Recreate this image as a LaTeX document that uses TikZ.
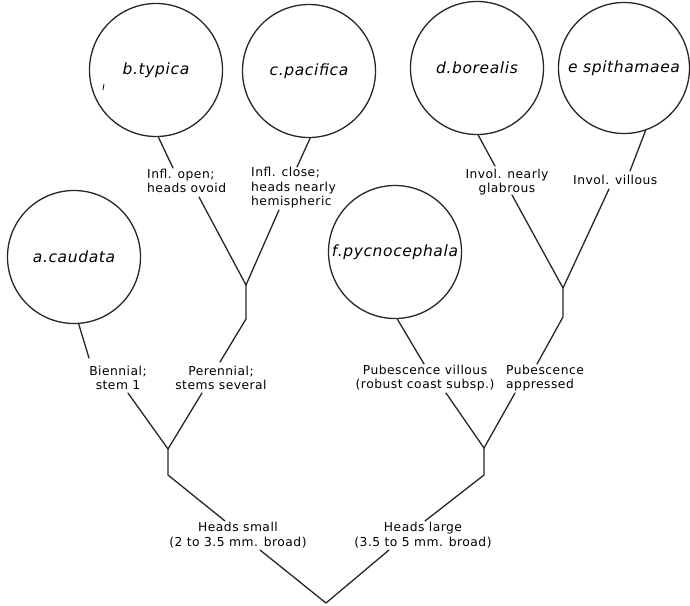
\documentclass[tikz,border=0pt]{standalone}
\usepackage{fontspec}
\setmainfont{DejaVu Sans}[LetterSpace=4]
\begin{document}
\begin{tikzpicture}[x=1pt,y=-1pt,
  taxon/.style={circle, draw=black!85, line width=1.3pt, minimum size=133pt, inner sep=0pt,
    font=\fontsize{15.5}{18}\selectfont\itshape},
  key/.style={inner sep=0pt, align=center, font=\fontsize{12.3}{14.5}\selectfont},
  keyl/.style={key, align=left, anchor=west},
  branch/.style={draw=black!85, line width=1.3pt, line join=round, line cap=round}]
\useasboundingbox (0,0) rectangle (690,605);

% taxa
\node[taxon] (btyp) at (156,70)  {b.typica};
\node[taxon] (cpac) at (309,71)  {c.pacifica};
\node[taxon] (dbor) at (477,68)  {d.borealis};
\node[taxon, minimum size=131pt] (espi) at (624,68) {e spithamaea};
\node[taxon] (acau) at (74,257)  {a.caudata};
\node[taxon] (fpyc) at (395,252) {f.pycnocephala};
\coordinate (tickA) at (104,84);
\coordinate (tickB) at (103,90);
\draw[line width=0.8pt] (tickA) -- (tickB);

% characters
\node[keyl] (lopen)  at (147,181) {Infl. open;\\heads ovoid};
\node[keyl] (lclose) at (251,188) {Infl. close;\\heads nearly\\hemispheric};
\node[key]  (lglab)  at (507,182) {Invol. nearly\\glabrous};
\node[keyl] (lvill)  at (573,180) {Invol. villous};
\node[key]  (lbien)  at (118,378) {Biennial;\\stem 1};
\node[key]  (lpere)  at (221,378) {Perennial;\\stems several};
\node[key]  (lpvil)  at (425,378) {Pubescence villous\\(robust coast subsp.)};
\node[keyl] (lpapp)  at (506,378) {Pubescence\\appressed};
\node[key]  (lsmall) at (238,535) {Heads small\\(2 to 3.5 mm. broad)};
\node[key]  (llarge) at (423,535) {Heads large\\(3.5 to 5 mm. broad)};

% forks
\coordinate (j1) at (246,285);  \coordinate (j1b) at (246,319);
\coordinate (j2) at (168,449);  \coordinate (j2b) at (168,475);
\coordinate (j3) at (484,448);  \coordinate (j3b) at (484,475);
\coordinate (j4) at (563,288);  \coordinate (j4b) at (563,317);
\coordinate (root) at (326,603);

% branch ends at the character labels
\coordinate (eopenT)  at (173,168); \coordinate (eopenB)  at (199,197);
\coordinate (ecloseT) at (297,167); \coordinate (ecloseB) at (279,210);
\coordinate (eglabT)  at (495,166); \coordinate (eglabB)  at (512,195);
\coordinate (evillT)  at (630,171); \coordinate (evillB)  at (609,189);
\coordinate (ebienT)  at (89,358);  \coordinate (ebienB)  at (128,393);
\coordinate (epereT)  at (220,362); \coordinate (epereB)  at (202,393);
\coordinate (epvilT)  at (424,364); \coordinate (epvilB)  at (446,393);
\coordinate (epappT)  at (537,364); \coordinate (epappB)  at (515,393);
\coordinate (esmallT) at (225,521); \coordinate (esmallB) at (260,550);
\coordinate (elargeT) at (425,521); \coordinate (elargeB) at (389,550);

% tree
\draw[branch] (btyp.-88) -- (eopenT);
\draw[branch] (cpac.-89) -- (ecloseT);
\draw[branch] (eopenB) -- (j1) -- (ecloseB);
\draw[branch] (j1) -- (j1b) -- (epereT);
\draw[branch] (acau.-86) -- (ebienT);
\draw[branch] (ebienB) -- (j2) -- (epereB);
\draw[branch] (j2) -- (j2b) -- (esmallT);

\draw[branch] (dbor.-89) -- (eglabT);
\draw[branch] (espi.-71) -- (evillT);
\draw[branch] (eglabB) -- (j4) -- (evillB);
\draw[branch] (j4) -- (j4b) -- (epappT);
\draw[branch] (fpyc.-88) -- (epvilT);
\draw[branch] (epvilB) -- (j3) -- (epappB);
\draw[branch] (j3) -- (j3b) -- (elargeT);

\draw[branch] (esmallB) -- (root) -- (elargeB);
\end{tikzpicture}
\end{document}
